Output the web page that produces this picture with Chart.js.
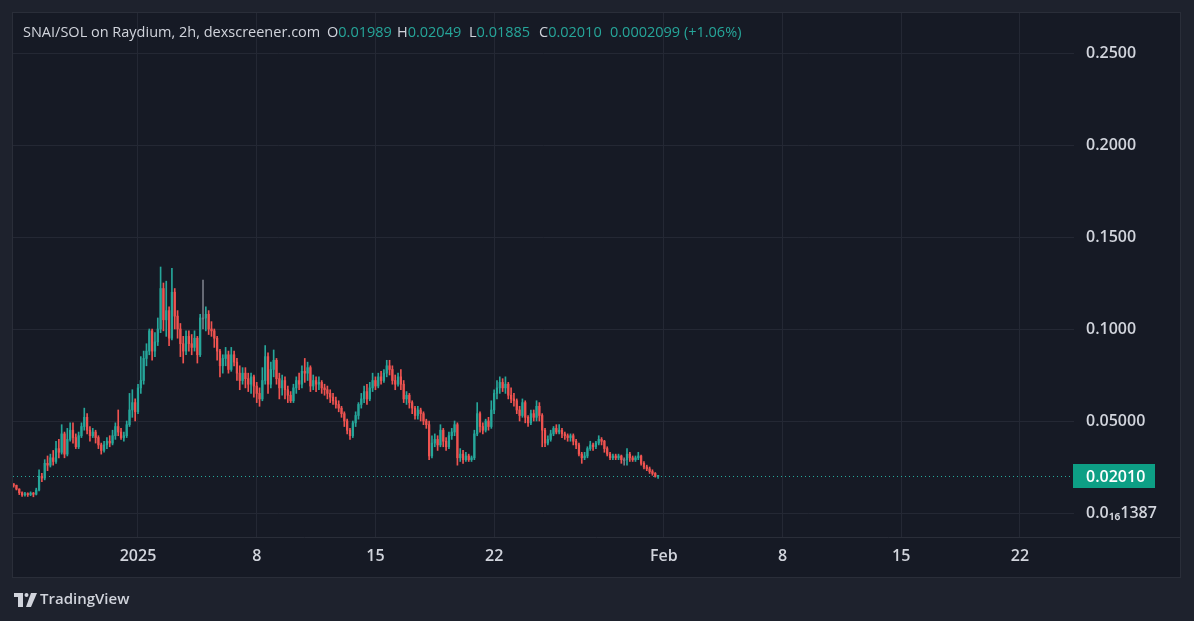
<!DOCTYPE html>
<html>
<head>
<meta charset="utf-8">
<title>SNAI/SOL on Raydium, 2h</title>
<script src="https://cdn.jsdelivr.net/npm/chart.js@4.4.1/dist/chart.umd.min.js"></script>
<style>
  html, body { margin: 0; padding: 0; background: #1e222d; }
  #wrap { width: 1194px; height: 621px; }
</style>
</head>
<body>
<div id="wrap"><canvas id="chart" width="1194" height="621"></canvas></div>
<script>
// 4h candles, x = days from 1 Jan 2025 (first candle: 24 Dec 16:00)
const firstDay = -22 / 3;
const stepDay = 1 / 6;
const firstOpen = 0.0158;

const closes = [
  0.0150, 0.0130, 0.0110, 0.0098, 0.0105, 0.0100, 0.0108, 0.0102, 0.0125, 0.0200,
  0.0190, 0.0270, 0.0260, 0.0300, 0.0280, 0.0350, 0.0330, 0.0430, 0.0320, 0.0400,
  0.0450, 0.0410, 0.0360, 0.0420, 0.0470, 0.0520, 0.0450, 0.0420, 0.0440, 0.0410,
  0.0370, 0.0340, 0.0370, 0.0390, 0.0380, 0.0420, 0.0470, 0.0440, 0.0410, 0.0420,
  0.0480, 0.0560, 0.0600, 0.0550, 0.0680, 0.0720, 0.0840, 0.0880, 0.0990, 0.0880,
  0.0930, 0.1000, 0.1220, 0.1050, 0.1100, 0.0950, 0.1200, 0.1070, 0.1000, 0.0920,
  0.0880, 0.0960, 0.0920, 0.0900, 0.0950, 0.0860, 0.1060, 0.1060, 0.1080, 0.1000,
  0.0990, 0.0950, 0.0880, 0.0800, 0.0840, 0.0860, 0.0780, 0.0860, 0.0820, 0.0760,
  0.0720, 0.0760, 0.0730, 0.0700, 0.0740, 0.0690, 0.0650, 0.0620, 0.0720, 0.0850,
  0.0700, 0.0780, 0.0830, 0.0730, 0.0680, 0.0720, 0.0670, 0.0640, 0.0610, 0.0680,
  0.0720, 0.0700, 0.0770, 0.0760, 0.0790, 0.0690, 0.0720, 0.0700, 0.0710, 0.0680,
  0.0670, 0.0650, 0.0630, 0.0610, 0.0590, 0.0570, 0.0540, 0.0500, 0.0450, 0.0420,
  0.0490, 0.0530, 0.0590, 0.0620, 0.0660, 0.0620, 0.0680, 0.0720, 0.0690, 0.0740,
  0.0720, 0.0760, 0.0800, 0.0780, 0.0720, 0.0700, 0.0740, 0.0700, 0.0620, 0.0640,
  0.0600, 0.0570, 0.0530, 0.0560, 0.0540, 0.0500, 0.0480, 0.0310, 0.0380, 0.0400,
  0.0370, 0.0450, 0.0390, 0.0360, 0.0420, 0.0440, 0.0480, 0.0300, 0.0320, 0.0290,
  0.0310, 0.0290, 0.0300, 0.0430, 0.0540, 0.0470, 0.0450, 0.0500, 0.0470, 0.0560,
  0.0650, 0.0680, 0.0710, 0.0680, 0.0700, 0.0640, 0.0620, 0.0610, 0.0560, 0.0530,
  0.0600, 0.0520, 0.0490, 0.0540, 0.0520, 0.0580, 0.0530, 0.0450, 0.0380, 0.0400,
  0.0430, 0.0460, 0.0440, 0.0450, 0.0430, 0.0420, 0.0410, 0.0420, 0.0390, 0.0370,
  0.0320, 0.0300, 0.0310, 0.0350, 0.0370, 0.0360, 0.0380, 0.0400, 0.0390, 0.0350,
  0.0320, 0.0300, 0.0310, 0.0300, 0.0310, 0.0290, 0.0290, 0.0320, 0.0300, 0.0290,
  0.0300, 0.0310, 0.0270, 0.0250, 0.0240, 0.0225, 0.0215, 0.01989, 0.0201
];

const highs = [
  0.0160, 0.0152, 0.0132, 0.0115, 0.0112, 0.0110, 0.0115, 0.0112, 0.0135, 0.0234,
  0.0215, 0.0290, 0.0310, 0.0320, 0.0340, 0.0390, 0.0400, 0.0480, 0.0440, 0.0460,
  0.0490, 0.0490, 0.0430, 0.0440, 0.0490, 0.0570, 0.0540, 0.0470, 0.0460, 0.0450,
  0.0420, 0.0380, 0.0390, 0.0410, 0.0420, 0.0450, 0.0490, 0.0560, 0.0460, 0.0440,
  0.0500, 0.0650, 0.0670, 0.0620, 0.0700, 0.0850, 0.0880, 0.0920, 0.1000, 0.1000,
  0.0980, 0.1060, 0.1337, 0.1250, 0.1260, 0.1120, 0.1330, 0.1220, 0.1100, 0.1030,
  0.0960, 0.0990, 0.0990, 0.0970, 0.0990, 0.0960, 0.1080, 0.1266, 0.1120, 0.1100,
  0.1040, 0.1000, 0.0960, 0.0890, 0.0860, 0.0900, 0.0880, 0.0900, 0.0880, 0.0840,
  0.0800, 0.0790, 0.0790, 0.0760, 0.0760, 0.0750, 0.0710, 0.0680, 0.0790, 0.0910,
  0.0870, 0.0820, 0.0886, 0.0840, 0.0760, 0.0750, 0.0740, 0.0690, 0.0660, 0.0700,
  0.0740, 0.0760, 0.0800, 0.0840, 0.0820, 0.0800, 0.0750, 0.0740, 0.0740, 0.0720,
  0.0700, 0.0690, 0.0670, 0.0650, 0.0630, 0.0610, 0.0580, 0.0550, 0.0510, 0.0460,
  0.0500, 0.0550, 0.0600, 0.0650, 0.0690, 0.0700, 0.0710, 0.0760, 0.0740, 0.0760,
  0.0770, 0.0780, 0.0830, 0.0830, 0.0800, 0.0750, 0.0760, 0.0780, 0.0720, 0.0660,
  0.0650, 0.0610, 0.0580, 0.0580, 0.0570, 0.0550, 0.0510, 0.0500, 0.0420, 0.0430,
  0.0420, 0.0480, 0.0460, 0.0410, 0.0440, 0.0460, 0.0500, 0.0490, 0.0350, 0.0340,
  0.0330, 0.0320, 0.0310, 0.0450, 0.0600, 0.0550, 0.0490, 0.0510, 0.0520, 0.0610,
  0.0670, 0.0720, 0.0740, 0.0730, 0.0740, 0.0710, 0.0680, 0.0650, 0.0620, 0.0580,
  0.0620, 0.0610, 0.0530, 0.0560, 0.0560, 0.0610, 0.0600, 0.0540, 0.0460, 0.0420,
  0.0450, 0.0470, 0.0480, 0.0480, 0.0460, 0.0440, 0.0430, 0.0430, 0.0430, 0.0400,
  0.0380, 0.0330, 0.0330, 0.0360, 0.0390, 0.0380, 0.0390, 0.0420, 0.0410, 0.0395,
  0.0360, 0.0330, 0.0320, 0.0320, 0.0320, 0.0315, 0.0300, 0.0350, 0.0330, 0.0310,
  0.0310, 0.0330, 0.0315, 0.0280, 0.0260, 0.0250, 0.0235, 0.0220, 0.02049
];

const lows = [
  0.0140, 0.0125, 0.0100, 0.0090, 0.0092, 0.0090, 0.0094, 0.0088, 0.0098, 0.0120,
  0.0170, 0.0180, 0.0230, 0.0250, 0.0260, 0.0270, 0.0300, 0.0320, 0.0300, 0.0310,
  0.0390, 0.0380, 0.0350, 0.0350, 0.0410, 0.0450, 0.0430, 0.0390, 0.0410, 0.0380,
  0.0350, 0.0320, 0.0330, 0.0350, 0.0360, 0.0370, 0.0400, 0.0420, 0.0400, 0.0390,
  0.0410, 0.0470, 0.0520, 0.0500, 0.0540, 0.0650, 0.0700, 0.0800, 0.0860, 0.0830,
  0.0850, 0.0910, 0.0980, 0.0990, 0.0960, 0.0910, 0.0940, 0.1000, 0.0950, 0.0850,
  0.0815, 0.0860, 0.0880, 0.0860, 0.0880, 0.0815, 0.0850, 0.1000, 0.0990, 0.0970,
  0.0960, 0.0900, 0.0830, 0.0740, 0.0760, 0.0800, 0.0760, 0.0770, 0.0800, 0.0720,
  0.0670, 0.0700, 0.0680, 0.0660, 0.0650, 0.0630, 0.0600, 0.0580, 0.0610, 0.0700,
  0.0650, 0.0680, 0.0740, 0.0700, 0.0620, 0.0640, 0.0620, 0.0600, 0.0600, 0.0600,
  0.0650, 0.0670, 0.0680, 0.0710, 0.0720, 0.0660, 0.0670, 0.0660, 0.0670, 0.0650,
  0.0640, 0.0620, 0.0600, 0.0590, 0.0570, 0.0550, 0.0520, 0.0470, 0.0430, 0.0400,
  0.0410, 0.0470, 0.0510, 0.0570, 0.0600, 0.0590, 0.0610, 0.0660, 0.0670, 0.0680,
  0.0700, 0.0710, 0.0740, 0.0750, 0.0700, 0.0670, 0.0690, 0.0670, 0.0600, 0.0590,
  0.0570, 0.0540, 0.0510, 0.0510, 0.0500, 0.0480, 0.0460, 0.0290, 0.0300, 0.0360,
  0.0340, 0.0360, 0.0360, 0.0340, 0.0350, 0.0400, 0.0420, 0.0260, 0.0280, 0.0270,
  0.0280, 0.0280, 0.0280, 0.0290, 0.0420, 0.0440, 0.0430, 0.0440, 0.0450, 0.0460,
  0.0540, 0.0620, 0.0650, 0.0660, 0.0650, 0.0620, 0.0600, 0.0580, 0.0540, 0.0500,
  0.0520, 0.0490, 0.0470, 0.0480, 0.0500, 0.0500, 0.0500, 0.0360, 0.0360, 0.0370,
  0.0390, 0.0420, 0.0430, 0.0430, 0.0410, 0.0400, 0.0390, 0.0390, 0.0370, 0.0350,
  0.0310, 0.0270, 0.0290, 0.0300, 0.0340, 0.0340, 0.0350, 0.0370, 0.0370, 0.0330,
  0.0310, 0.0290, 0.0290, 0.0290, 0.0290, 0.0270, 0.0260, 0.0260, 0.0280, 0.0280,
  0.0280, 0.0290, 0.0260, 0.0240, 0.0230, 0.0215, 0.0205, 0.0195, 0.01885
];

// axes
const tickDays = [0, 7, 14, 21, 31, 38, 45, 52];
const tickLabels = ['2025', '8', '15', '22', 'Feb', '8', '15', '22'];
const priceTicks = [0, 0.05, 0.1, 0.15, 0.2, 0.25];
const priceLabels = ['0.0\u2081\u20861387', '0.05000', '0.1000', '0.1500', '0.2000', '0.2500'];
const dayRange = [-7.37, 55.19];
const priceRange = [-0.01304, 0.27174];

// legend line
const headerTitle = 'SNAI/SOL on Raydium, 2h, dexscreener.com';
const ohlcKeys = ['O', 'H', 'L', 'C'];
const ohlcValues = ['0.01989', '0.02049', '0.01885', '0.02010'];
const changeText = '0.0002099 (+1.06%)';
const lastPrice = 0.02010;

const UP = '#26a69a';
const DOWN = '#ef5350';
const FLAT = '#787b86';
const TEXT = '#d1d4dc';
const GRID = '#242834';
const FONT = "'Open Sans', 'Noto Sans', sans-serif";

const opens = closes.map((c, i) => i === 0 ? firstOpen : closes[i - 1]);
const xs = closes.map((c, i) => firstDay + i * stepDay);
const colors = closes.map((c, i) => c > opens[i] ? UP : (c < opens[i] ? DOWN : FLAT));

const tvFrame = {
    id: 'tvFrame',
    beforeDraw(chart) {
        const ctx = chart.ctx;
        const area = chart.chartArea;
        ctx.save();
        ctx.fillStyle = '#1e222d';
        ctx.fillRect(0, 0, chart.width, chart.height);
        ctx.fillStyle = '#161a25';
        ctx.fillRect(12, 12, 1169, 566);
        ctx.strokeStyle = '#2a2e39';
        ctx.lineWidth = 1;
        ctx.strokeRect(12.5, 12.5, 1168, 565);
        ctx.beginPath();
        ctx.moveTo(13, area.bottom + 0.5);
        ctx.lineTo(1180, area.bottom + 0.5);
        ctx.stroke();
        ctx.restore();
    },
    beforeDatasetsDraw(chart) {
        const ctx = chart.ctx;
        const area = chart.chartArea;
        const y = Math.round(chart.scales.y.getPixelForValue(lastPrice)) + 0.5;
        ctx.save();
        ctx.strokeStyle = UP;
        ctx.lineWidth = 1;
        ctx.setLineDash([1, 3]);
        ctx.beginPath();
        ctx.moveTo(area.left, y);
        ctx.lineTo(area.right, y);
        ctx.stroke();
        ctx.restore();
    },
    afterDraw(chart) {
        const ctx = chart.ctx;
        const area = chart.chartArea;
        ctx.save();

        // last price tag
        const y = Math.round(chart.scales.y.getPixelForValue(lastPrice));
        ctx.fillStyle = '#0d9f85';
        ctx.fillRect(area.right - 1, y - 12, 82, 24);
        ctx.fillStyle = '#ffffff';
        ctx.font = '600 16px ' + FONT;
        ctx.textBaseline = 'middle';
        ctx.fillText(lastPrice.toFixed(5), area.right + 12, y + 1);

        // legend line
        ctx.font = '14.5px ' + FONT;
        ctx.fillStyle = TEXT;
        ctx.fillText(headerTitle, 23, 33);
        const keyX = [327, 397, 469, 539];
        ohlcKeys.forEach((k, i) => {
            ctx.fillStyle = TEXT;
            ctx.fillText(k, keyX[i], 33);
            ctx.fillStyle = UP;
            ctx.fillText(ohlcValues[i], keyX[i] + ctx.measureText(k).width, 33);
        });
        ctx.fillText(changeText, 610, 33);

        // TradingView mark
        ctx.fillStyle = TEXT;
        ctx.fillRect(14, 593, 9, 4);
        ctx.fillRect(18, 593, 5, 14);
        ctx.beginPath();
        ctx.arc(26.5, 595, 2, 0, Math.PI * 2);
        ctx.fill();
        ctx.beginPath();
        ctx.moveTo(31, 593);
        ctx.lineTo(37, 593);
        ctx.lineTo(31, 607);
        ctx.lineTo(26, 607);
        ctx.closePath();
        ctx.fill();
        ctx.font = '600 15px ' + FONT;
        ctx.fillText('TradingView', 40, 600);
        ctx.restore();
    }
};

const ctx = document.getElementById('chart').getContext('2d');
new Chart(ctx, {
    type: 'bar',
    data: {
        datasets: [
            {
                label: 'wick',
                data: xs.map((x, i) => ({ x: x, y: [lows[i], highs[i]] })),
                backgroundColor: colors,
                barThickness: 1,
                grouped: false,
                borderWidth: 0,
                order: 2
            },
            {
                label: 'body',
                data: xs.map((x, i) => ({ x: x, y: [opens[i], closes[i]] })),
                backgroundColor: colors,
                barThickness: 1.6,
                minBarLength: 1,
                grouped: false,
                borderWidth: 0,
                order: 1
            }
        ]
    },
    options: {
        responsive: false,
        animation: false,
        layout: { padding: { left: 13, top: 13, right: 14, bottom: 44 } },
        plugins: {
            legend: { display: false },
            tooltip: { enabled: false }
        },
        scales: {
            x: {
                type: 'linear',
                min: dayRange[0],
                max: dayRange[1],
                offset: false,
                grid: { color: GRID, drawTicks: false, offset: false },
                border: { display: false },
                afterBuildTicks: s => { s.ticks = tickDays.map(v => ({ value: v })); },
                afterFit: s => { s.height = 40; s.paddingLeft = 0; s.paddingRight = 0; },
                ticks: {
                    color: TEXT,
                    font: { family: FONT, size: 16, weight: '600' },
                    padding: 10,
                    maxRotation: 0,
                    autoSkip: false,
                    callback: v => tickLabels[tickDays.indexOf(v)]
                }
            },
            y: {
                position: 'right',
                min: priceRange[0],
                max: priceRange[1],
                grid: { color: GRID, drawTicks: false },
                border: { display: false },
                afterBuildTicks: s => { s.ticks = priceTicks.map(v => ({ value: v })); },
                afterFit: s => { s.width = 106; s.paddingTop = 0; s.paddingBottom = 0; },
                ticks: {
                    color: TEXT,
                    font: { family: FONT, size: 16, weight: '600' },
                    padding: 12,
                    crossAlign: 'near',
                    callback: v => priceLabels[priceTicks.indexOf(v)]
                }
            }
        }
    },
    plugins: [tvFrame]
});
</script>
</body>
</html>
